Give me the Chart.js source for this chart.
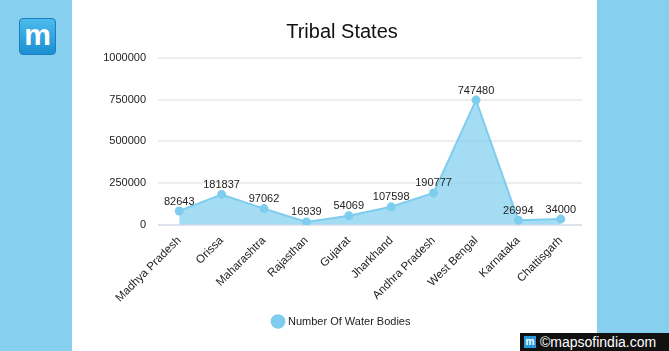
<!DOCTYPE html>
<html>
<head>
<meta charset="utf-8">
<script src="https://cdn.jsdelivr.net/npm/chart.js@4"></script>
<style>
  html, body { margin: 0; padding: 0; background: #fff; }
  body { width: 669px; height: 351px; position: relative; overflow: hidden; font-family: "Liberation Sans", Arial, sans-serif; }
  .band { position: absolute; top: 0; height: 351px; background: #87cfee; }
  .logo { position: absolute; left: 19px; top: 18px; width: 35px; height: 35px; border-radius: 4px;
          background: linear-gradient(#4cbbec, #1b8fd3); border: 1px solid #1a7fc0;
          color: #fff; font: bold 30px "Liberation Sans", Arial, sans-serif; text-align: center; line-height: 32px; }
  .foot { position: absolute; left: 520px; top: 333px; width: 149px; height: 18px; background: #111;
          color: #fff; font: 14px "Liberation Sans", Arial, sans-serif; line-height: 18px; }
  .foot .ic { position: absolute; left: 4px; top: 3px; width: 12px; height: 12px; background: #2a9ae0;
          font: bold 10px Arial, sans-serif; line-height: 12px; text-align: center; }
  .foot .tx { position: absolute; left: 20px; top: 0; }
  #wrap { position: absolute; left: 72px; top: 0; width: 536px; height: 351px; }
</style>
</head>
<body>
<div class="band" style="left:0;width:72px"></div>
<div class="band" style="left:597px;width:72px"></div>
<div class="logo">m</div>
<div id="wrap"><canvas id="c"></canvas></div>
<div class="foot"><div class="ic">m</div><div class="tx">©mapsofindia.com</div></div>
<script>
const states = ['Madhya Pradesh','Orissa','Maharashtra','Rajasthan','Gujarat','Jharkhand','Andhra Pradesh','West Bengal','Karnataka','Chattisgarh']
const waterBodies = [82643,181837,97062,16939,54069,107598,190777,747480,26994,34000]
const yTicks = [0,250000,500000,750000,1000000]

const valores = {
    id:'valores',
    afterDatasetsDraw(chart){
        const ctx = chart.ctx
        const meta = chart.getDatasetMeta(0)
        ctx.save()
        ctx.fillStyle = '#222'
        ctx.font = '11px "Liberation Sans", Arial, sans-serif'
        ctx.textAlign = 'center'
        ctx.textBaseline = 'bottom'
        meta.data.forEach((p,i) => ctx.fillText(waterBodies[i], p.x, p.y - 4))
        ctx.restore()
    }
}

Chart.defaults.font.family = '"Liberation Sans", Arial, sans-serif'
Chart.defaults.color = '#222'

new Chart(document.getElementById('c'), {
    type:'line',
    data:{
        labels:states,
        datasets:[{
            label:'Number Of Water Bodies',
            data:waterBodies,
            borderColor:'#7ecdee',
            backgroundColor:'rgba(126,205,238,0.7)',
            pointBackgroundColor:'#7ecdee',
            pointBorderColor:'#7ecdee',
            pointRadius:3.5,
            borderWidth:2,
            fill:'origin',
            tension:0
        }]
    },
    options:{
        responsive:true,
        maintainAspectRatio:false,
        animation:false,
        layout:{ padding:{ left:30, right:26, top:0, bottom:14 } },
        plugins:{
            title:{ display:true, text:'Tribal States', color:'#111', font:{ size:20, weight:'normal' }, padding:{ top:20, bottom:14 } },
            legend:{
                position:'bottom',
                labels:{ usePointStyle:true, pointStyle:'circle', boxWidth:9, boxHeight:9, color:'#222', font:{ size:11 } }
            },
            tooltip:{ enabled:false }
        },
        scales:{
            x:{
                offset:true,
                grid:{ display:false },
                border:{ display:false },
                ticks:{ minRotation:45, maxRotation:45, padding:1, font:{ size:11.5 }, color:'#222' }
            },
            y:{
                min:0, max:1000000,
                afterBuildTicks: s => { s.ticks = yTicks.map(v => ({value:v})) },
                afterFit: s => { s.width = 56 },
                grid:{ color: c => c.tick.value === 0 ? '#dfe3f0' : '#eeeeee', drawTicks:false, lineWidth:2 },
                border:{ display:false },
                ticks:{ padding:12, font:{ size:11 }, color:'#222', callback: v => String(v) }
            }
        }
    },
    plugins:[valores]
})
</script>
</body>
</html>
